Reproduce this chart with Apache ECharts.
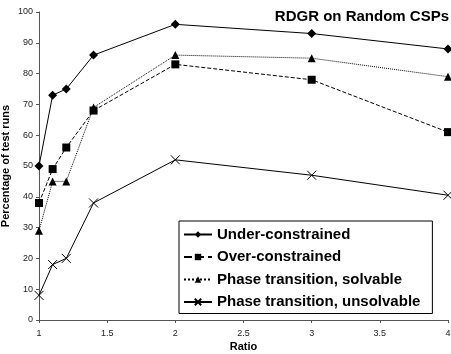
<!DOCTYPE html>
<html><head><meta charset="utf-8">
<script src="https://cdn.jsdelivr.net/npm/echarts@6/dist/echarts.min.js"></script>
<style>html,body{margin:0;padding:0;background:#fff}#c{width:451px;height:354px}</style>
</head><body><div id="c"></div>
<script>
const ratios = [1, 1.1, 1.2, 1.4, 2, 3, 4];
const underConstrained = [50, 73, 75, 86, 96, 93, 88];
const overConstrained = [38, 49, 56, 68, 83, 78, 61];
const phaseSolvable = [29, 45, 45, 69, 86, 85, 79];
const phaseUnsolvable = [8, 18, 20, 38, 52, 47, 40.5];
const seriesNames = ['Under-constrained', 'Over-constrained', 'Phase transition, solvable', 'Phase transition, unsolvable'];
const yTicks = [0, 100, 10];
const xTicks = [1, 4, 0.5];

const pairs = v => ratios.map((r, i) => [r, v[i]]);
const FONT = 'Liberation Sans, Arial, sans-serif';
const chart = echarts.init(document.getElementById('c'));
const mk = (name, data, symbol, size, type, extra) => Object.assign({
  name, type: 'line', data: pairs(data), symbol, symbolSize: size,
  lineStyle: { color: '#000', width: 1, type },
  itemStyle: { color: '#000' }, clip: false, animation: false
}, extra || {});
chart.setOption({
  animation: false,
  title: { text: 'RDGR on Random CSPs', right: 2, top: 9, padding: 0,
    textStyle: { fontFamily: FONT, fontWeight: 'bold', fontSize: 15, color: '#000' } },
  grid: { left: 39, right: 3, top: 12, bottom: 34, outerBoundsMode: 'none', containLabel: false },
  xAxis: { type: 'value', min: xTicks[0], max: xTicks[1], interval: xTicks[2],
    name: 'Ratio', nameLocation: 'middle', nameGap: 21, nameMoveOverlap: false,
    nameTextStyle: { fontFamily: FONT, fontWeight: 'bold', fontSize: 11, color: '#000' },
    axisLine: { lineStyle: { color: '#555', width: 1 } },
    axisTick: { show: true, length: 3, lineStyle: { color: '#555' } },
    axisLabel: { fontFamily: FONT, fontSize: 9, color: '#222', margin: 9 },
    splitLine: { show: false } },
  yAxis: { type: 'value', min: yTicks[0], max: yTicks[1], interval: yTicks[2],
    name: 'Percentage of test runs', nameLocation: 'middle', nameGap: 28, nameMoveOverlap: false,
    nameTextStyle: { fontFamily: FONT, fontWeight: 'bold', fontSize: 11, color: '#000' },
    axisLine: { show: true, lineStyle: { color: '#555', width: 1 } },
    axisTick: { show: true, length: 3, lineStyle: { color: '#555' } },
    axisLabel: { fontFamily: FONT, fontSize: 9, color: '#222', margin: 6 },
    splitLine: { show: false } },
  legend: { orient: 'vertical', left: 179, top: 221, itemWidth: 28, itemHeight: 8, itemGap: 5.5,
    padding: [5, 12, 3, 4], borderColor: '#000', borderWidth: 1, backgroundColor: '#fff',
    textStyle: { fontFamily: FONT, fontWeight: 'bold', fontSize: 15, color: '#000', lineHeight: 17 },
    data: seriesNames },
  series: [
    mk(seriesNames[0], underConstrained, 'diamond', 9, 'solid'),
    mk(seriesNames[1], overConstrained, 'rect', 8, 'dashed'),
    mk(seriesNames[2], phaseSolvable, 'triangle', 8, 'dotted'),
    mk(seriesNames[3], phaseUnsolvable, 'path://M0,0L10,10M10,0L0,10', 9, 'solid',
      { itemStyle: { color: '#000', borderColor: '#000', borderWidth: 1 } })
  ]
});
</script></body></html>
